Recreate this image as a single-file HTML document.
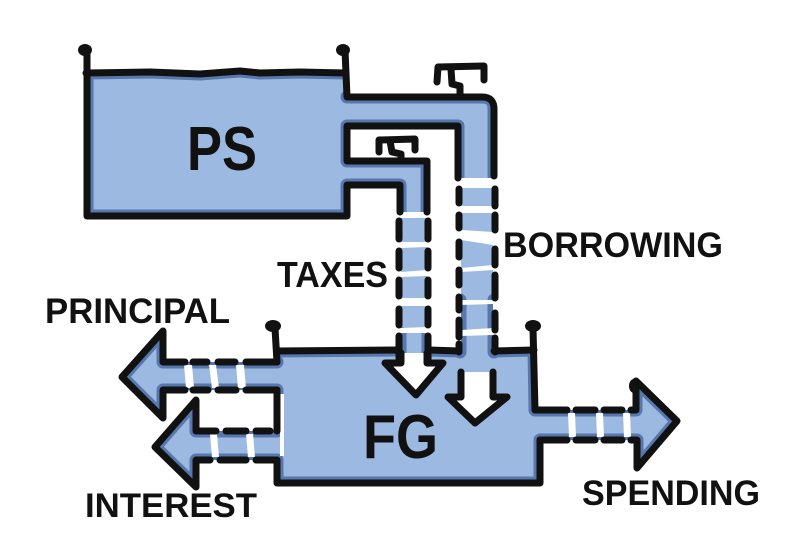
<!DOCTYPE html>
<html>
<head>
<meta charset="utf-8">
<style>
  html, body { margin: 0; padding: 0; background: #ffffff; }
  body { width: 789px; height: 546px; overflow: hidden; }
  svg { display: block; }
  text { font-family: "Liberation Sans", Arial, sans-serif; font-weight: bold; fill: #111; }
</style>
</head>
<body>
<svg width="789" height="546" viewBox="0 0 789 546" xmlns="http://www.w3.org/2000/svg">
  <defs>
    <clipPath id="blue">
      <path d="M87,74 L346,74 L346,99 L482,99 Q493,99 493,110 L493,178 L458,178 L458,126 L346,126 L346,161 L427,161 L427,212 L400,212 L400,185 L346,185 L346,215 L87,215 Z"/>
      <path d="M277,351 L537,351 L537,483 L277,483 Z"/>
      <path d="M277,362 L163,362 L163,331 L122,377 L163,418 L163,390 L277,390 Z"/>
      <path d="M277,431 L196,431 L196,400 L155,447 L196,487 L196,460 L277,460 Z"/>
      <path d="M536,410 L636,410 L636,381 L677,421 L637,468 L637,440 L536,440 Z"/>
      <path d="M401,218 L427,218 L427,242 L401,242 Z M401,248 L427,247 L427,270 L401,272 Z M401,277 L427,276 L427,298 L401,298 Z M401,306 L427,306 L427,327 L401,328 Z M401,333 L427,333 L427,352 L401,352 Z"/>
      <path d="M461,188 L493,188 L493,206 L461,206 Z M461,213 L493,213 L493,232 L461,230 Z M461,240 L493,245 L493,265 L461,268 Z M461,272 L493,270 L493,300 L461,300 Z M461,305 L493,304 L493,328 L461,330 Z M461,336 L493,335 L493,352 L461,352 Z"/>
    </clipPath>
  </defs>

  <!-- blue fills -->
  <g fill="#9cb9e1">
    <path d="M87,74 L346,74 L346,99 L482,99 Q493,99 493,110 L493,178 L458,178 L458,126 L346,126 L346,161 L427,161 L427,212 L400,212 L400,185 L346,185 L346,215 L87,215 Z"/>
    <path d="M277,351 L537,351 L537,483 L277,483 Z"/>
    <path d="M277,362 L163,362 L163,331 L122,377 L163,418 L163,390 L277,390 Z"/>
    <path d="M277,431 L196,431 L196,400 L155,447 L196,487 L196,460 L277,460 Z"/>
    <path d="M536,410 L636,410 L636,381 L677,421 L637,468 L637,440 L536,440 Z"/>
    <path d="M401,218 L427,218 L427,242 L401,242 Z M401,248 L427,247 L427,270 L401,272 Z M401,277 L427,276 L427,298 L401,298 Z M401,306 L427,306 L427,327 L401,328 Z M401,333 L427,333 L427,352 L401,352 Z"/>
    <path d="M461,188 L493,188 L493,206 L461,206 Z M461,213 L493,213 L493,232 L461,230 Z M461,240 L493,245 L493,265 L461,268 Z M461,272 L493,270 L493,300 L461,300 Z M461,305 L493,304 L493,328 L461,330 Z M461,336 L493,335 L493,352 L461,352 Z"/>
  </g>

  <!-- dark blue inner shading (clipped) -->
  <g clip-path="url(#blue)" fill="none" stroke="#5878ad" stroke-width="13" stroke-linejoin="round" stroke-linecap="round">
    <path d="M87,52 L87,216 L347,216 L347,185 L400,185 L400,212"/>
    <path d="M86,73 L150,72 L200,74 L240,71 L260,73 L300,72 L345,73"/>
    <path d="M347,97 L482,97 Q494,97 494,109 L494,176"/>
    <path d="M458,178 L458,126 L347,126 L347,161 L427,161 L427,212"/>
    <path d="M277,351 L398,350 M429,350 L459,351 M494,351 L534,350"/>
    <path d="M277,362 L163,362 L163,331 L122,377 L163,418 L163,390 L277,390 L277,431 L196,431 L196,400 L155,447 L196,487 L196,460 L277,460 L277,483 L540,483 L540,440 L637,440 L637,468 L677,421 L636,381 L636,410 L535,410 L534,350"/>
    <path d="M400,333 L400,352 M428,333 L428,352 M460,300 L460,352 M494,300 L494,352"/>
  </g>

  <!-- white gaps & white arrows -->
  <g fill="#ffffff">
    <polygon points="184,365 192,365 194,388 186,388"/>
    <polygon points="209,365 216,365 219,388 212,388"/>
    <polygon points="236,365 244,365 246,388 238,388"/>
    <polygon points="210,434 217,434 219,457 212,457"/>
    <polygon points="246,434 253,434 255,457 248,457"/>
    <polygon points="280,394 284,394 284,456 280,456"/>
    <polygon points="568,413 575,413 576,437 569,437"/>
    <polygon points="596,413 603,413 604,437 597,437"/>
    <polygon points="623,413 630,413 631,437 624,437"/>
    <path d="M401,353 L401,363 L385,363 L416,395 L443,363 L427,363 L427,353 Z"/>
    <path d="M462,372 L462,397 L448,397 L475,423 L507,397 L492,397 L492,372 Z"/>
  </g>

  <!-- black outlines -->
  <g fill="none" stroke="#111" stroke-width="7" stroke-linejoin="round" stroke-linecap="round">
    <!-- PS tank -->
    <path d="M87,52 L87,216 L347,216 L347,185 L400,185 L400,212"/>
    <path d="M86,73 L150,72 L200,74 L240,71 L260,73 L300,72 L345,73"/>
    <path d="M345,50 L347,97 L482,97 Q494,97 494,109 L494,176"/>
    <path d="M458,178 L458,126 L347,126 L347,161 L427,161 L427,212"/>
    <!-- valves -->
    <path d="M437,82 L438,67 L484,66 L484,80"/>
    <path d="M451,69 L452,84 L460,86 L460,97"/>
    <path d="M379,152 L379,140 L415,139 L415,150"/>
    <path d="M390,141 L392,152 L401,154 L401,161"/>
    <!-- taxes stream dashes -->
    <path d="M399,221 L399,239 M399,251 L399,268 M399,280 L399,296 M399,309 L399,325 M399,336 L399,363"/>
    <path d="M428,221 L428,239 M428,251 L428,268 M428,280 L428,296 M428,309 L428,325 M428,336 L428,363"/>
    <!-- borrowing stream dashes -->
    <path d="M459,189 L459,203 M459,215 L459,228 M459,242 L459,257 M459,270 L459,285 M459,297 L459,310 M459,320 L459,337 M459,344 L459,352"/>
    <path d="M495,189 L495,206 M495,215 L495,230 M495,249 L495,265 M495,275 L495,298 M495,313 L495,330 M495,338 L495,352"/>
    <!-- FG tank -->
    <path d="M275,328 L277,362"/>
    <path d="M277,351 L398,350 M429,350 L459,351 M494,351 L534,350"/>
    <path d="M533,328 L535,410"/>
    <path d="M277,390 L277,431"/>
    <path d="M277,460 L277,483 L540,483 L540,440"/>
    <!-- principal arrow -->
    <path d="M277,362 L246,362 M235,362 L218,362 M207,362 L193,362 M185,362 L163,362 L163,331 L122,377 L163,418 L163,390 L185,390 M193,390 L208,390 M218,390 L236,390 M246,390 L277,390"/>
    <!-- interest arrow -->
    <path d="M270,431 L256,431 M246,431 L226,431 M216,431 L196,431 L196,400 L155,447 L196,487 L196,460 L210,460 M220,460 L246,460 M256,460 L277,460"/>
    <!-- spending arrow -->
    <path d="M535,410 L567,410 M576,410 L595,410 M604,410 L622,410 M631,410 L636,410 L636,381 L677,421 L637,468 L637,440 L631,440 M622,440 L604,440 M595,440 L576,440 M567,440 L540,440"/>
    <!-- taxes arrow outline -->
    <path d="M401,353 L401,363 L385,363 L416,395 L443,363 L427,363 L427,353"/>
    <!-- borrowing arrow outline -->
    <path d="M461,372 L461,397 L448,397 L475,423 L507,397 L493,397 L493,372"/>
  </g>

  <!-- post blobs -->
  <g fill="#111">
    <ellipse cx="85" cy="50" rx="7" ry="6"/>
    <ellipse cx="343" cy="50" rx="7" ry="6"/>
    <ellipse cx="273" cy="326" rx="8" ry="6"/>
    <ellipse cx="533" cy="326" rx="8" ry="6"/>
    <ellipse cx="634" cy="386" rx="5" ry="7"/>
  </g>

  <!-- labels -->
  <text x="187" y="170" font-size="62" textLength="70" lengthAdjust="spacingAndGlyphs">PS</text>
  <text x="363" y="458" font-size="62" textLength="75" lengthAdjust="spacingAndGlyphs">FG</text>
  <text x="277" y="287" font-size="36" textLength="111" lengthAdjust="spacingAndGlyphs">TAXES</text>
  <text x="503" y="257" font-size="35" textLength="220" lengthAdjust="spacingAndGlyphs">BORROWING</text>
  <text x="45" y="323" font-size="35" textLength="185" lengthAdjust="spacingAndGlyphs">PRINCIPAL</text>
  <text x="85" y="517" font-size="34" textLength="172" lengthAdjust="spacingAndGlyphs">INTEREST</text>
  <text x="582" y="505" font-size="35" textLength="178" lengthAdjust="spacingAndGlyphs">SPENDING</text>
</svg>
</body>
</html>
